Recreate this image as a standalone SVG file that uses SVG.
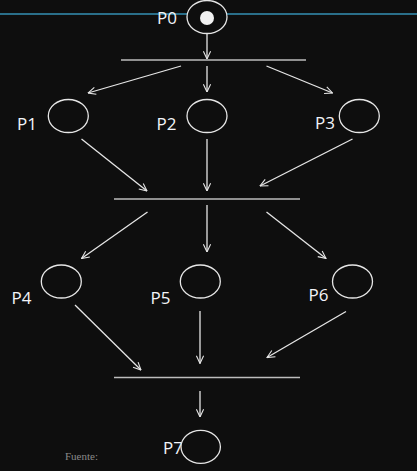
<svg xmlns="http://www.w3.org/2000/svg" width="417" height="471" viewBox="0 0 417 471">
<defs>
<marker id="ah" viewBox="0 0 10 10" refX="9.5" refY="5" markerWidth="9" markerHeight="9" markerUnits="userSpaceOnUse" orient="auto">
<polyline points="1,1 9.5,5 1,9" fill="none" stroke="#e6e6e6" stroke-width="1.2"/>
</marker>
<style>
.pl{fill:#0e0e0e;stroke:#e6e6e6;stroke-width:1.3}
.bar{stroke:#bdbdbd;stroke-width:1.6}
.arc{stroke:#e6e6e6;stroke-width:1.3;fill:none;marker-end:url(#ah)}
.lbl{font-family:"Open Sans","Liberation Sans",sans-serif;font-size:17px;fill:#f2f4f8}
.src{font-family:"Liberation Serif",serif;font-size:11px;fill:#8a8a8a}
</style>
</defs>
<rect width="417" height="471" fill="#0e0e0e"/>
<line x1="0" y1="14" x2="417" y2="14" stroke="#3590b4" stroke-width="1.6"/>
<g id="transitions">
<line id="t1" class="bar" x1="121" y1="60" x2="306" y2="60"/>
<line id="t2" class="bar" x1="114" y1="199" x2="300" y2="199"/>
<line id="t3" class="bar" x1="114" y1="377.5" x2="300" y2="377.5"/>
</g>
<g id="connectors">
<line class="arc" x1="207" y1="34" x2="207" y2="59"/>
<line class="arc" x1="181" y1="66" x2="88" y2="93"/>
<line class="arc" x1="207" y1="66" x2="207" y2="92"/>
<line class="arc" x1="266.5" y1="66" x2="332.5" y2="93"/>
<line class="arc" x1="81.5" y1="139" x2="147" y2="191"/>
<line class="arc" x1="207" y1="139" x2="207" y2="191"/>
<line class="arc" x1="352.5" y1="139" x2="260" y2="186"/>
<line class="arc" x1="147.5" y1="212" x2="81.5" y2="258.5"/>
<line class="arc" x1="207" y1="205" x2="207" y2="252"/>
<line class="arc" x1="266.5" y1="212" x2="326" y2="258.5"/>
<line class="arc" x1="75" y1="305" x2="141" y2="370"/>
<line class="arc" x1="200" y1="311" x2="200" y2="363.5"/>
<line class="arc" x1="346" y1="311.5" x2="267" y2="357.5"/>
<line class="arc" x1="200" y1="391" x2="200" y2="417"/>
</g>
<g id="P0">
<text class="lbl" x="157" y="24">P0</text>
<ellipse class="pl" cx="207" cy="17" rx="20" ry="16.5"/>
<circle cx="207" cy="18" r="7" fill="#f2f2f2"/>
</g>
<g id="P1"><ellipse class="pl" cx="68.3" cy="116" rx="20" ry="16.5"/><text class="lbl" x="17" y="130">P1</text></g>
<g id="P2"><ellipse class="pl" cx="207" cy="116" rx="20" ry="16.5"/><text class="lbl" x="156.5" y="130">P2</text></g>
<g id="P3"><ellipse class="pl" cx="359.3" cy="116" rx="20" ry="16.5"/><text class="lbl" x="315" y="128.5">P3</text></g>
<g id="P4"><ellipse class="pl" cx="61.3" cy="281.5" rx="20" ry="16.5"/><text class="lbl" x="11.5" y="303.5">P4</text></g>
<g id="P5"><ellipse class="pl" cx="200.3" cy="281.5" rx="20" ry="16.5"/><text class="lbl" x="150.5" y="303.5">P5</text></g>
<g id="P6"><ellipse class="pl" cx="352.5" cy="281.5" rx="20" ry="16.5"/><text class="lbl" x="308.5" y="301">P6</text></g>
<g id="P7"><text class="lbl" x="163" y="454">P7</text><ellipse class="pl" cx="200.7" cy="446.8" rx="19.7" ry="16.5" fill="none"/></g>
<text class="src" x="65" y="460">Fuente:</text>
</svg>
